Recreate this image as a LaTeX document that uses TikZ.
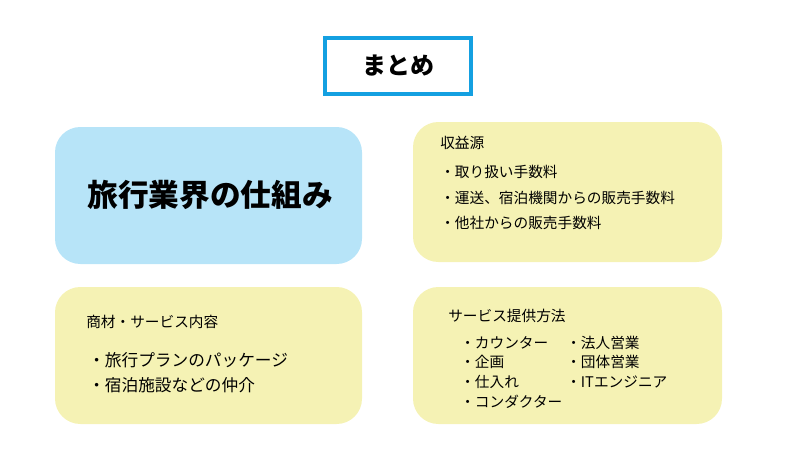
\documentclass[tikz,border=0pt]{standalone}
\usepackage{fontspec}
\setmainfont{Noto Sans CJK JP}
\definecolor{tblue}{RGB}{20,160,225}
\definecolor{lblue}{RGB}{183,228,248}
\definecolor{lyel}{RGB}{245,242,180}
\tikzset{
  box/.style={rounded corners=19pt,draw=none},
  txt/.style={anchor=west,inner sep=0pt,font=\fontsize{11pt}{13pt}\selectfont},
  big/.style={anchor=west,inner sep=0pt,font=\fontsize{12.5pt}{15pt}\selectfont},
}
\begin{document}
\begin{tikzpicture}[x=0.75pt,y=-0.75pt]
\useasboundingbox (0,0) rectangle (800,450);
\node[draw=tblue,line width=3pt,minimum width=110pt*0.75/0.75*0.75*1.333,minimum height=42pt,font=\fontsize{18pt}{20pt}\selectfont\bfseries] (title) at (398,66) {まとめ};
\fill[lblue,box] (55,127) rectangle (362,264);
\node[font=\fontsize{23pt}{26pt}\selectfont\bfseries] (main) at (210,195) {旅行業界の仕組み};
\fill[lyel,box] (413,122) rectangle (722,262);
\fill[lyel,box] (55,287) rectangle (362,424);
\fill[lyel,box] (413,287) rectangle (722,424);
\node[txt] (r0) at (440,143) {収益源};
\node[txt] (r1) at (440,172) {・取り扱い手数料};
\node[txt] (r2) at (440,198) {・運送、宿泊機関からの販売手数料};
\node[txt] (r3) at (440,223) {・他社からの販売手数料};
\node[txt] (s0) at (86,322) {商材・サービス内容};
\node[big] (s1) at (88,360) {・旅行プランのパッケージ};
\node[big] (s2) at (88,385) {・宿泊施設などの仲介};
\node[txt] (p0) at (448,316) {サービス提供方法};
\node[txt] (p1) at (460,343) {・カウンター};
\node[txt] (p2) at (460,362) {・企画};
\node[txt] (p3) at (460,382) {・仕入れ};
\node[txt] (p4) at (460,402) {・コンダクター};
\node[txt] (q1) at (566,343) {・法人営業};
\node[txt] (q2) at (566,362) {・団体営業};
\node[txt] (q3) at (566,382) {・ITエンジニア};
\end{tikzpicture}
\end{document}
